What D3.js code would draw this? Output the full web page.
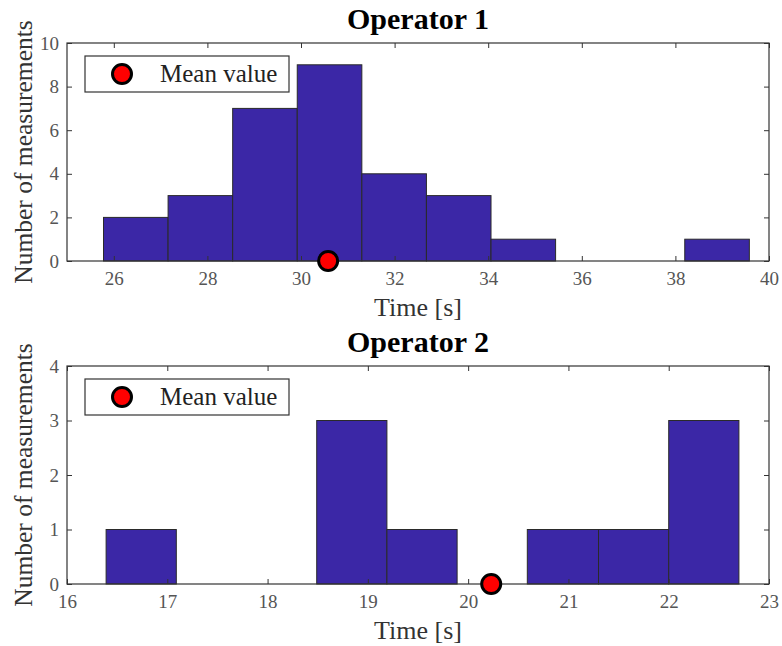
<!DOCTYPE html>
<html>
<head>
<meta charset="utf-8">
<script src="https://cdn.jsdelivr.net/npm/d3@7"></script>
<style>
body { margin: 0; background: white; }
text { font-family: "Liberation Serif", "DejaVu Serif", serif; }
</style>
</head>
<body>
<div id="chart"></div>
<script>
const width = 782;
const height = 646;

// Operator 1 histogram
const edges1 = [25.78, 27.16, 28.54, 29.92, 31.30, 32.68, 34.06, 35.44, 36.82, 38.20, 39.58];
const counts1 = [2, 3, 7, 9, 4, 3, 1, 0, 0, 1];
const mean1 = 30.58;
const xTicks1 = [26, 28, 30, 32, 34, 36, 38, 40];
const yTicks1 = [0, 2, 4, 6, 8, 10];

// Operator 2 histogram
const edges2 = [16.39, 17.09, 17.79, 18.49, 19.19, 19.89, 20.59, 21.30, 22.00, 22.70];
const counts2 = [1, 0, 0, 3, 1, 0, 1, 1, 3];
const mean2 = 20.23;
const xTicks2 = [16, 17, 18, 19, 20, 21, 22, 23];
const yTicks2 = [0, 1, 2, 3, 4];

const svg = d3.select('#chart')
    .append('svg')
    .attr('width', width)
    .attr('height', height);

function drawPanel(cfg) {
    const left = 67, right = 769;
    const x = d3.scaleLinear().domain(cfg.xDomain).range([left, right]);
    const y = d3.scaleLinear().domain(cfg.yDomain).range([cfg.bottom, cfg.top]);
    const g = svg.append('g');

    const bins = cfg.counts.map((c, i) => ({x0: cfg.edges[i], x1: cfg.edges[i + 1], c: c}));

    // zero-height bins still show as a line along the axis
    g.selectAll('rect.bar')
      .data(bins)
      .enter()
      .append('rect')
      .attr('class', 'bar')
      .attr('x', d => x(d.x0))
      .attr('y', d => y(d.c))
      .attr('width', d => x(d.x1) - x(d.x0))
      .attr('height', d => y(0) - y(d.c))
      .attr('fill', '#3b27a6')
      .attr('stroke', '#2a2a2a')
      .attr('stroke-width', 1);

    // box
    g.append('rect')
      .attr('x', left)
      .attr('y', cfg.top)
      .attr('width', right - left)
      .attr('height', cfg.bottom - cfg.top)
      .attr('fill', 'none')
      .attr('stroke', '#333')
      .attr('stroke-width', 1.2);

    // inward ticks, matlab-style
    const tl = 5;
    const fmt = d3.format('d');
    const axisBottom = d3.axisBottom(x).tickValues(cfg.xTicks).tickSize(-tl).tickPadding(11).tickFormat(fmt);
    const axisTop = d3.axisTop(x).tickValues(cfg.xTicks).tickSize(-tl).tickFormat('');
    const axisLeft = d3.axisLeft(y).tickValues(cfg.yTicks).tickSize(-tl).tickPadding(8).tickFormat(fmt);
    const axisRight = d3.axisRight(y).tickValues(cfg.yTicks).tickSize(-tl).tickFormat('');

    const ax = [
        g.append('g').attr('transform', `translate(0,${cfg.bottom})`).call(axisBottom),
        g.append('g').attr('transform', `translate(0,${cfg.top})`).call(axisTop),
        g.append('g').attr('transform', `translate(${left},0)`).call(axisLeft),
        g.append('g').attr('transform', `translate(${right},0)`).call(axisRight)
    ];
    ax.forEach(a => {
        a.select('.domain').remove();
        a.selectAll('line').attr('stroke', '#333');
        a.selectAll('text')
          .attr('fill', '#555')
          .style('font-size', '19px')
          .style('font-family', '"Liberation Serif", serif');
    });

    // mean marker
    g.append('circle')
      .attr('cx', x(cfg.mean))
      .attr('cy', y(0))
      .attr('r', 9.5)
      .attr('fill', '#ff0000')
      .attr('stroke', 'black')
      .attr('stroke-width', 3);

    // title
    g.append('text')
      .attr('x', (left + right) / 2)
      .attr('y', cfg.top - 14)
      .attr('text-anchor', 'middle')
      .style('font-size', '30px')
      .style('font-weight', 'bold')
      .text(cfg.title);

    // x label
    g.append('text')
      .attr('x', (left + right) / 2)
      .attr('y', cfg.bottom + 55)
      .attr('text-anchor', 'middle')
      .attr('fill', '#333')
      .style('font-size', '26px')
      .text('Time [s]');

    // y label
    g.append('text')
      .attr('transform', `translate(32,${(cfg.top + cfg.bottom) / 2}) rotate(-90)`)
      .attr('text-anchor', 'middle')
      .attr('fill', '#333')
      .style('font-size', '25.5px')
      .text('Number of measurements');

    // legend
    const lx = 85, ly = cfg.top + 13, lw = 204, lh = 36;
    g.append('rect')
      .attr('x', lx).attr('y', ly)
      .attr('width', lw).attr('height', lh)
      .attr('fill', 'white')
      .attr('stroke', '#333')
      .attr('stroke-width', 1.2);
    g.append('circle')
      .attr('cx', lx + 37)
      .attr('cy', ly + lh / 2)
      .attr('r', 9.5)
      .attr('fill', '#ff0000')
      .attr('stroke', 'black')
      .attr('stroke-width', 3);
    g.append('text')
      .attr('x', lx + 75)
      .attr('y', ly + lh / 2 + 8)
      .attr('fill', '#222')
      .style('font-size', '25px')
      .text('Mean value');
}

drawPanel({
    title: 'Operator 1', edges: edges1, counts: counts1, mean: mean1,
    xDomain: [25, 40], yDomain: [0, 10], xTicks: xTicks1, yTicks: yTicks1,
    top: 43, bottom: 261
});
drawPanel({
    title: 'Operator 2', edges: edges2, counts: counts2, mean: mean2,
    xDomain: [16, 23], yDomain: [0, 4], xTicks: xTicks2, yTicks: yTicks2,
    top: 366, bottom: 584
});
</script>
</body>
</html>
